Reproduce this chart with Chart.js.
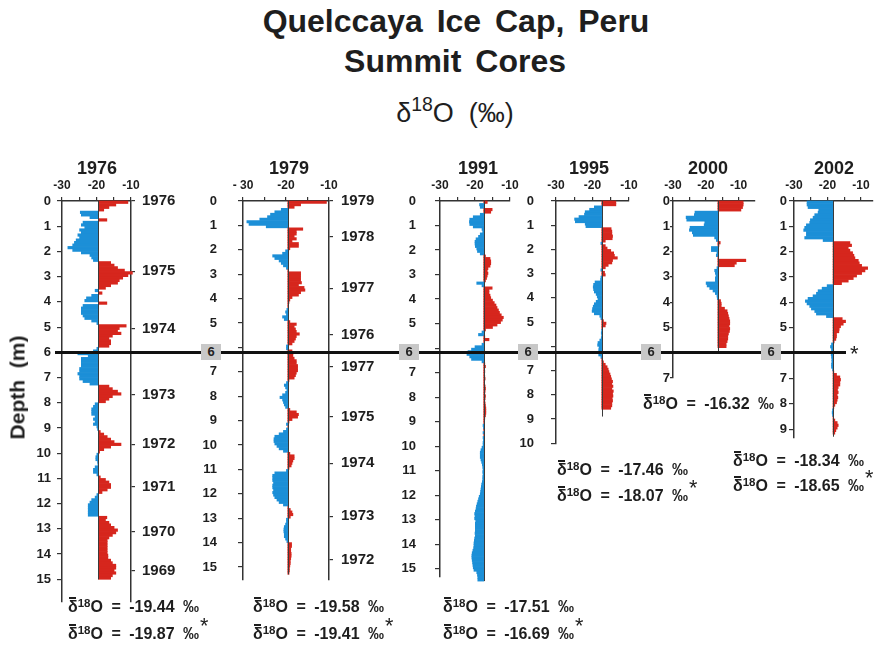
<!DOCTYPE html>
<html>
<head>
<meta charset="utf-8">
<script src="https://cdn.jsdelivr.net/npm/chart.js@4.4.1/dist/chart.umd.min.js"></script>
<style>
  html, body { margin: 0; padding: 0; background: #fff; }
  #fig { position: relative; width: 876px; height: 650px; overflow: hidden;
         font-family: 'Liberation Sans', Arial, sans-serif; color: #1e1e1e; background: #fff; }
  .txt { position: absolute; white-space: nowrap; z-index: 4; }
  .sup { position: relative; font-size: 0.72em; top: -0.5em; }
  .star { position: relative; font-weight: normal; font-size: 1.35em; top: -0.3em; margin-left: 1px; }
  .dbar { position: relative; display: inline-block; line-height: 1; }
  .dbar i { position: absolute; left: 0.08em; width: 0.45em; top: -0.16em;
            height: 2px; background: #1e1e1e; }
  .cut { position: absolute; z-index: 2; background: #111; }
  .box { position: absolute; z-index: 3; background: #c8c8c8; text-align: center;
         font-weight: bold; font-size: 13px; color: #222; }
</style>
</head>
<body>
<div id="fig"></div>
<script>
// ---- δ18O profiles, sampled every STEP metres from the surface ----
const STEP = 0.1;

const d18O_1976 = [
  -10.9,-14.4,-16.4,-17.9,-24.7,-24.4,-21.9,-17.0,-23.9,-24.4,
  -23.4,-24.9,-24.4,-25.4,-24.9,-25.9,-26.4,-26.9,-28.3,-26.9,
  -24.4,-21.9,-21.4,-20.9,-15.9,-14.9,-13.9,-11.9,-9.6,-10.9,
  -12.4,-13.4,-13.9,-15.9,-17.4,-20.4,-18.4,-21.4,-22.9,-23.4,
  -17.0,-23.9,-24.4,-24.4,-24.4,-23.9,-23.4,-21.4,-19.9,-11.4,
  -13.4,-13.9,-12.9,-15.4,-16.4,-15.9,-15.9,-16.4,-19.9,-20.9,
  -25.4,-22.4,-24.4,-24.4,-24.4,-24.4,-24.9,-24.9,-25.4,-24.9,
  -24.9,-23.9,-21.9,-16.4,-15.4,-13.9,-12.9,-15.4,-16.4,-17.4,
  -20.4,-20.9,-21.4,-21.4,-21.4,-20.4,-20.9,-20.4,-20.9,-19.9,
  -19.7,-18.9,-17.9,-16.9,-15.9,-14.9,-12.9,-15.9,-17.9,-19.1,
  -19.9,-20.2,-20.2,-19.7,-19.6,-20.4,-20.9,-20.9,-19.9,-18.9,
  -17.4,-16.4,-15.9,-15.9,-16.9,-18.4,-19.9,-20.4,-21.4,-21.9,
  -22.4,-22.4,-22.4,-22.4,-22.4,-17.0,-17.4,-16.4,-15.9,-14.9,
  -13.9,-14.4,-15.4,-16.4,-16.9,-16.9,-16.9,-16.9,-16.9,-16.9,
  -16.7,-16.7,-15.9,-15.4,-14.4,-14.4,-14.9,-14.4,-15.4,-15.9
];

const d18O_1979 = [
  -10.6,-16.6,-18.1,-21.1,-22.6,-23.6,-24.3,-26.1,-29.1,-28.6,
  -24.6,-16.1,-17.6,-17.6,-18.1,-17.6,-18.6,-17.1,-17.1,-19.1,
  -20.1,-20.8,-23.1,-22.6,-21.6,-21.1,-20.6,-19.9,-19.4,-16.6,
  -16.6,-16.6,-16.6,-16.4,-17.1,-15.8,-15.6,-16.6,-17.1,-18.6,
  -19.1,-19.3,-19.4,-19.5,-19.8,-20.1,-19.9,-20.8,-20.4,-19.1,
  -17.6,-18.1,-17.8,-17.6,-16.9,-17.6,-17.8,-18.1,-18.6,-19.9,
  -19.9,-18.6,-18.4,-18.4,-18.1,-17.6,-17.6,-17.3,-17.3,-17.3,
  -17.6,-17.8,-18.1,-19.3,-19.9,-20.4,-20.1,-19.8,-20.1,-20.8,
  -21.4,-20.8,-20.6,-20.4,-20.1,-19.1,-17.6,-17.1,-17.3,-18.6,
  -19.3,-19.9,-19.4,-19.9,-20.6,-21.6,-22.6,-22.8,-22.8,-22.6,
  -22.1,-21.6,-20.6,-19.1,-18.1,-18.1,-18.4,-18.6,-18.8,-19.3,
  -19.9,-22.6,-23.1,-23.1,-23.1,-22.9,-23.1,-23.1,-22.9,-23.1,
  -22.9,-22.6,-22.1,-21.6,-20.6,-19.4,-19.0,-18.6,-18.4,-19.0,
  -19.9,-19.9,-20.1,-20.4,-20.5,-20.5,-20.4,-20.4,-20.1,-19.8,
  -18.7,-18.7,-18.9,-18.9,-18.8,-18.8,-18.9,-19.0,-19.0,-19.1,
  -19.2,-19.2,-19.3
];

const d18O_1991 = [
  -16.5,-18.7,-18.5,-15.1,-15.5,-18.5,-20.5,-21.5,-21.6,-21.5,
  -20.5,-18.0,-17.8,-18.5,-19.0,-19.7,-20.0,-20.0,-19.9,-19.5,
  -19.3,-18.5,-17.0,-15.7,-15.5,-15.5,-15.7,-16.3,-16.5,-16.3,
  -16.5,-16.7,-17.0,-19.5,-18.0,-15.1,-16.0,-16.0,-15.7,-15.5,
  -15.0,-14.5,-14.0,-13.7,-13.3,-13.0,-12.5,-11.9,-12.2,-12.7,
  -13.7,-15.0,-17.0,-18.0,-19.0,-17.2,-16.0,-17.3,-18.0,-20.0,
  -21.0,-22.0,-22.3,-21.5,-21.0,-18.0,-17.2,-17.0,-17.3,-17.2,
  -17.3,-17.2,-17.1,-17.3,-17.3,-17.1,-17.0,-17.1,-17.2,-17.0,
  -17.1,-17.2,-17.1,-17.0,-16.9,-16.9,-16.9,-17.0,-17.2,-17.3,
  -17.4,-17.7,-17.6,-17.4,-17.7,-17.4,-17.7,-17.6,-17.7,-17.7,
  -18.0,-18.3,-18.5,-18.5,-18.5,-18.3,-18.1,-17.9,-17.8,-17.7,
  -17.8,-17.7,-17.8,-17.8,-17.9,-18.1,-18.2,-18.3,-18.4,-18.5,
  -18.8,-19.0,-19.2,-19.4,-19.6,-19.7,-19.9,-20.1,-20.0,-20.1,
  -19.8,-19.9,-19.9,-19.9,-19.9,-20.0,-19.9,-20.1,-20.2,-20.3,
  -20.3,-20.4,-20.6,-20.8,-20.9,-20.9,-20.8,-20.7,-20.6,-20.5,
  -20.3,-19.5,-19.3,-19.2,-19.2
];

const d18O_1995 = [
  -13.6,-13.6,-19.5,-20.8,-22.0,-22.2,-23.7,-24.9,-24.7,-22.0,
  -21.8,-14.9,-14.7,-14.7,-14.5,-14.6,-16.5,-17.7,-16.5,-16.0,
  -15.0,-14.2,-14.0,-13.2,-14.5,-14.7,-15.7,-16.5,-17.7,-16.7,
  -16.5,-17.7,-17.8,-19.3,-19.7,-19.8,-19.7,-19.5,-19.0,-18.7,
  -18.5,-19.0,-19.5,-19.8,-20.0,-20.1,-19.5,-18.0,-17.7,-17.0,
  -16.3,-16.5,-17.4,-17.5,-17.6,-17.5,-17.6,-18.0,-18.5,-18.6,
  -18.2,-18.3,-18.3,-18.3,-17.7,-17.3,-17.0,-16.5,-16.0,-15.7,
  -15.5,-15.2,-15.0,-14.8,-14.5,-14.7,-14.4,-14.7,-14.3,-14.5,
  -14.4,-14.6,-14.5,-14.7,-14.7,-15.0
];

const d18O_2000 = [
  -8.6,-8.6,-8.8,-9.3,-23.3,-23.5,-26.0,-25.8,-20.3,-20.5,
  -24.8,-25.0,-24.1,-23.8,-17.3,-16.8,-15.6,-16.0,-18.3,-18.3,
  -16.6,-16.8,-16.1,-7.8,-10.7,-11.3,-16.6,-17.3,-17.1,-16.9,
  -17.1,-17.1,-19.9,-19.6,-18.8,-17.8,-17.1,-16.6,-16.5,-15.5,
  -15.3,-15.3,-14.3,-13.5,-13.3,-13.1,-12.9,-12.7,-12.7,-12.9,
  -12.7,-12.8,-13.1,-13.3,-13.3,-13.5,-13.8,-13.8
];

const d18O_2002 = [
  -26.1,-26.1,-25.8,-22.6,-22.8,-23.8,-24.3,-25.1,-25.3,-26.3,
  -26.8,-27.1,-26.3,-26.3,-26.8,-21.3,-13.3,-12.8,-13.8,-13.3,
  -12.5,-12.1,-11.8,-10.8,-10.5,-9.8,-8.0,-8.8,-9.8,-11.3,
  -12.3,-13.8,-15.8,-20.1,-21.6,-22.8,-23.3,-24.3,-25.8,-26.6,
  -26.1,-25.3,-24.8,-23.8,-23.3,-20.3,-15.6,-14.6,-15.3,-16.1,
  -16.5,-16.6,-17.3,-17.3,-17.5,-18.0,-18.8,-19.1,-18.8,-18.6,
  -18.9,-18.8,-18.7,-18.7,-18.8,-18.8,-18.5,-18.1,-17.3,-16.3,
  -16.1,-16.3,-16.3,-16.8,-17.0,-16.8,-17.1,-16.9,-17.1,-17.3,
  -17.8,-18.1,-18.5,-18.6,-18.5,-18.3,-17.8,-17.1,-16.8,-17.1,
  -17.5,-17.8
];

// core means (second value: mean over the section marked *)
const MEAN_1976 = [-19.44, -19.87];
const MEAN_1979 = [-19.58, -19.41];
const MEAN_1991 = [-17.51, -16.69];
const MEAN_1995 = [-17.46, -18.07];
const MEAN_2000 = [-16.32];
const MEAN_2002 = [-18.34, -18.65];

// core bottoms (m)
const CORE_END = { 1976: 15.0, 1979: 15.3, 1991: 15.5, 1995: 8.9, 2000: 6.0, 2002: 9.3 };

// annual layer picks on the two oldest cores
const YEAR_DEPTH_1976 = [0, 2.78, 5.07, 7.69, 9.64, 11.34, 13.12, 14.67];
const YEAR_LABEL_1976 = ['1976','1975','1974','1973','1972','1971','1970','1969'];
const YEAR_DEPTH_1979 = [0, 1.47, 3.58, 5.49, 6.8, 8.84, 10.75, 12.92, 14.7];
const YEAR_LABEL_1979 = ['1979','1978','1977','1976','1977','1975','1974','1973','1972'];

// axis ticks
const X_TICKS = [-30, -25, -20, -15, -10];
const DEPTH_TICKS_15 = [0,1,2,3,4,5,6,7,8,9,10,11,12,13,14,15];
const DEPTH_TICKS_10 = [0,1,2,3,4,5,6,7,8,9,10];
const DEPTH_TICKS_9 = [0,1,2,3,4,5,6,7,8,9];
const DEPTH_TICKS_7 = [0,1,2,3,4,5,6,7];
const CUT_DEPTH = 6;

// ---- drawing ----
const BLUE = '#1c8fd7', RED = '#d6261d', AXIS = '#333333';
const FONT = "'Liberation Sans', Arial, Helvetica, sans-serif";
Chart.defaults.font.family = FONT;
Chart.defaults.font.weight = 'bold';
Chart.defaults.color = '#1e1e1e';

const fig = document.getElementById('fig');
const TOP = 201;          // page y of the 0 m line
const PX_PER_M = 25.33;   // vertical scale shared by all cores
const LEFT_W = 60, TOP_H = 30, BOTTOM_PAD = 14;

function addText(html, x, baseline, size, opts = {}) {
  const d = document.createElement('div');
  d.className = 'txt';
  d.innerHTML = html;
  d.style.fontSize = size + 'px';
  d.style.lineHeight = size + 'px';
  d.style.fontWeight = opts.weight || 'bold';
  if (opts.spacing) d.style.wordSpacing = opts.spacing + 'px';
  d.style.top = (baseline - 0.8465 * size) + 'px';
  if (opts.align === 'center') {
    d.style.left = (x - 400) + 'px'; d.style.width = '800px'; d.style.textAlign = 'center';
  } else {
    d.style.left = x + 'px';
  }
  if (opts.rotate) {
    d.style.transform = 'rotate(-90deg)';
  }
  fig.appendChild(d);
  return d;
}

// vertical line at the core mean, from the surface to the core bottom
const meanLine = {
  id: 'meanLine',
  afterDatasetsDraw(chart, args, o) {
    const { ctx, scales: { x, y } } = chart;
    const px = Math.round(x.getPixelForValue(o.mean)) + 0.5;
    ctx.save();
    ctx.strokeStyle = '#3a3a3a';
    ctx.lineWidth = 1;
    ctx.beginPath();
    ctx.moveTo(px, y.getPixelForValue(0));
    ctx.lineTo(px, y.getPixelForValue(o.end));
    ctx.stroke();
    ctx.restore();
  }
};

function makePanel(p) {
  const areaW = p.right - p.left;
  const areaH = p.depthMax * PX_PER_M;
  const rightW = p.years ? 52 : 14;
  const cv = document.createElement('canvas');
  cv.width = Math.round(LEFT_W + areaW + rightW);
  cv.height = Math.round(TOP_H + areaH + BOTTOM_PAD);
  cv.style.cssText = `position:absolute;left:${p.left - LEFT_W}px;top:${TOP - TOP_H}px;z-index:1;`;
  fig.appendChild(cv);

  const mean = p.means[0];
  const scales = {
    x: {
      type: 'linear', position: 'top', min: p.xMin, max: p.xMax, bounds: 'data',
      afterBuildTicks: s => { s.ticks = X_TICKS.map(v => ({ value: v })); },
      afterFit: s => { s.height = TOP_H; },
      ticks: {
        autoSkip: false, maxRotation: 0, padding: 4,
        font: { size: 12, weight: 'bold' },
        callback: v => (v % 10 === 0 ? (p.xLabel ? p.xLabel(v) : String(v)) : '')
      },
      grid: { drawOnChartArea: false, tickLength: 4, color: AXIS, lineWidth: 1.2 },
      border: { display: true, color: AXIS, width: 1.5 }
    },
    y: {
      type: 'linear', position: 'left', reverse: true, min: 0, max: p.depthMax,
      bounds: 'data', offset: false,
      afterBuildTicks: s => { s.ticks = p.depthTicks.map(v => ({ value: v })); },
      afterFit: s => { s.width = LEFT_W; },
      ticks: {
        autoSkip: false, padding: p.labelPad,
        font: { size: 13, weight: 'bold' },
        callback: v => (p.boxX && v === CUT_DEPTH ? '' : String(v))
      },
      grid: { drawOnChartArea: false, offset: false, tickLength: p.tickLen, color: AXIS, lineWidth: 1.2 },
      border: { display: true, color: AXIS, width: 1.5 }
    }
  };
  if (p.years) {
    scales.yr = {
      axis: 'y', type: 'linear', position: 'right', reverse: true, min: 0, max: p.depthMax,
      bounds: 'data', offset: false,
      afterBuildTicks: s => { s.ticks = p.yearDepths.map(v => ({ value: v })); },
      afterFit: s => { s.width = rightW; },
      ticks: {
        autoSkip: false, padding: p.yearPad,
        font: { size: 15, weight: 'bold' },
        callback: (v, i) => p.years[i]
      },
      grid: { drawOnChartArea: false, offset: false, tickLength: 4, color: AXIS, lineWidth: 1.2 },
      border: { display: true, color: AXIS, width: 1.5 }
    };
  }

  const chart = new Chart(cv, {
    type: 'bar',
    data: {
      datasets: [{
        data: p.values.map((v, i) => ({ y: (i + 0.5) * STEP, x: [mean, v] })),
        backgroundColor: c => (c.raw && c.raw.x[1] < mean ? BLUE : RED),
        borderWidth: 0,
        barPercentage: 1,
        categoryPercentage: 1,
        clip: false
      }]
    },
    options: {
      indexAxis: 'y',
      responsive: false,
      animation: false,
      events: [],
      layout: { padding: { left: 0, top: 0, right: p.years ? 0 : rightW, bottom: BOTTOM_PAD } },
      plugins: {
        legend: { display: false },
        tooltip: { enabled: false },
        meanLine: { mean: mean, end: p.end }
      },
      scales
    },
    plugins: [meanLine]
  });

  // core label above the panel
  addText(p.year, p.headX, 174.5, 18, { align: 'center' });

  // mean values under the panel (δ with an overbar)
  p.means.forEach((m, i) => {
    const star = i === 1 ? '<span class="star">*</span>' : '';
    addText(`<span class="dbar"><i></i>δ</span><span class="sup">18</span>O = ${m.toFixed(2)} ‰${star}`,
            p.meanX, p.meanY[i], 16, { spacing: 4 });
  });

  return chart;
}

const panels = [
  { year: '1976', values: d18O_1976, means: MEAN_1976, end: CORE_END[1976],
    left: 62, right: 131, xMin: -30, xMax: -10, depthMax: 15.9, depthTicks: DEPTH_TICKS_15,
    labelPad: 6, tickLen: 5, years: YEAR_LABEL_1976, yearDepths: YEAR_DEPTH_1976, yearPad: 7,
    headX: 97, meanX: 68, meanY: [613, 638], boxX: null },
  { year: '1979', values: d18O_1979, means: MEAN_1979, end: CORE_END[1979],
    left: 243, right: 329, xMin: -30, xMax: -10, depthMax: 15.5, depthTicks: DEPTH_TICKS_15,
    labelPad: 21, tickLen: 5, years: YEAR_LABEL_1979, yearDepths: YEAR_DEPTH_1979, yearPad: 8,
    xLabel: v => (v === -30 ? '- 30' : String(v)),
    headX: 289, meanX: 253, meanY: [613, 638], boxX: 211 },
  { year: '1991', values: d18O_1991, means: MEAN_1991, end: CORE_END[1991],
    left: 439.5, right: 509, xMin: -30, xMax: -10, depthMax: 15.3, depthTicks: DEPTH_TICKS_15,
    labelPad: 19, tickLen: 5,
    headX: 478, meanX: 443, meanY: [613, 638], boxX: 409 },
  { year: '1995', values: d18O_1995, means: MEAN_1995, end: CORE_END[1995],
    left: 556, right: 629, xMin: -30, xMax: -10, depthMax: 10, depthTicks: DEPTH_TICKS_10,
    labelPad: 17, tickLen: 5,
    headX: 589, meanX: 557, meanY: [476, 500], boxX: 528 },
  { year: '2000', values: d18O_2000, means: MEAN_2000, end: CORE_END[2000],
    left: 673, right: 755, xMin: -30, xMax: -5, depthMax: 7, depthTicks: DEPTH_TICKS_7,
    labelPad: 0, tickLen: 3,
    headX: 708, meanX: 643, meanY: [410], boxX: 651 },
  { year: '2002', values: d18O_2002, means: MEAN_2002, end: CORE_END[2002],
    left: 794, right: 873, xMin: -30, xMax: -6.4, depthMax: 9.35, depthTicks: DEPTH_TICKS_9,
    labelPad: 2, tickLen: 5,
    headX: 834, meanX: 733, meanY: [467, 490], boxX: 771 }
];

const charts = panels.map(makePanel);

// the 6 m horizon shared by all cores
const y6 = TOP - TOP_H + charts[0].scales.y.getPixelForValue(CUT_DEPTH);
const cut = document.createElement('div');
cut.className = 'cut';
cut.style.left = '55px';
cut.style.width = '791px';
cut.style.top = (y6 - 1.5) + 'px';
cut.style.height = '3px';
fig.appendChild(cut);
addText('*', 850, y6 + 9, 22, { weight: 'normal' });

panels.forEach(p => {
  if (!p.boxX) return;
  const b = document.createElement('div');
  b.className = 'box';
  b.textContent = String(CUT_DEPTH);
  b.style.left = (p.boxX - 10) + 'px';
  b.style.width = '20px';
  b.style.top = (y6 - 8) + 'px';
  b.style.height = '16px';
  b.style.lineHeight = '16px';
  fig.appendChild(b);
});

// titles
addText('Quelccaya Ice Cap, Peru', 456, 32, 32, { align: 'center', spacing: 5 });
addText('Summit Cores', 455, 72, 32, { align: 'center', spacing: 5 });
addText('δ<span class="sup" style="font-size:0.72em;top:-0.55em">18</span>O&nbsp;&nbsp;(‰)',
        455, 123, 27, { align: 'center', weight: 'normal' });

// depth axis title
const dl = addText('Depth&nbsp;&nbsp;(m)', 17, 388, 21, { align: 'center', rotate: true });
dl.style.top = '377px';
dl.style.left = '-383px';
dl.style.transformOrigin = '400px 10.5px';
</script>
</body>
</html>
